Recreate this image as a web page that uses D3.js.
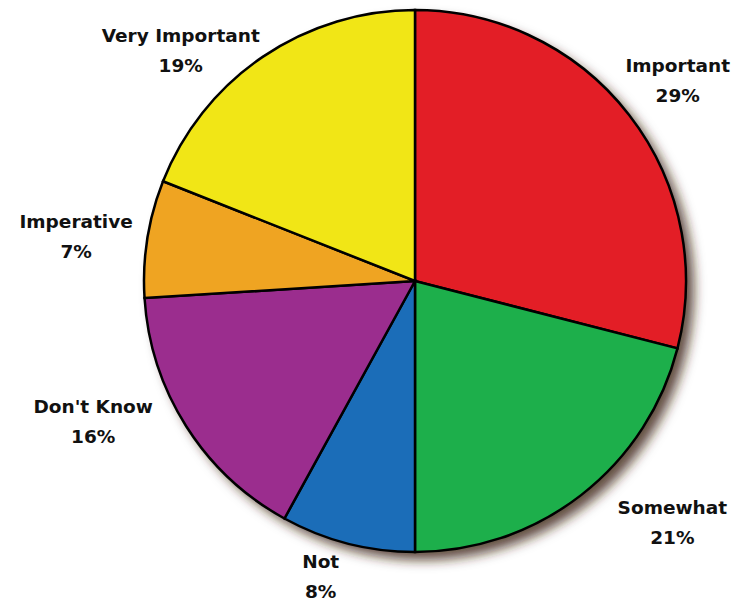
<!DOCTYPE html>
<html>
<head>
<meta charset="utf-8">
<script src="https://cdn.jsdelivr.net/npm/d3@7"></script>
<style>
  html, body { margin: 0; padding: 0; background: #ffffff; }
  svg { display: block; }
  .lbl { font-family: "DejaVu Sans", "Liberation Sans", sans-serif; font-weight: bold; font-size: 18.5px; fill: #111; }
</style>
</head>
<body>
<script>
// Survey answers, clockwise from twelve o'clock
const categories = ["Important", "Somewhat", "Not", "Don't Know", "Imperative", "Very Important"];
const percents   = [29, 21, 8, 16, 7, 19];
const colors     = ["#e31e26", "#1daf4b", "#1b6db8", "#9b2d8e", "#efa422", "#f1e616"];

const W = 744, H = 603;
const cx = 415, cy = 281, radius = 271, labelRadius = 335;
// per-label nudges from the default label ring position
const labelNudge = [[-2, 5], [52, -23], [-11, -28], [-39, -39], [-8, 8], [-46, 47]];

const svg = d3.select("body").append("svg").attr("width", W).attr("height", H);

const defs = svg.append("defs");
const f = defs.append("filter").attr("id", "shadow")
  .attr("x", "-20%").attr("y", "-20%").attr("width", "140%").attr("height", "140%");
f.append("feGaussianBlur").attr("in", "SourceAlpha").attr("stdDeviation", 6).attr("result", "b");
f.append("feOffset").attr("in", "b").attr("dx", 8).attr("dy", 8).attr("result", "o");
f.append("feFlood").attr("flood-color", "#3a2010").attr("flood-opacity", 0.8);
f.append("feComposite").attr("in2", "o").attr("operator", "in");

const data = categories.map((c, i) => ({ name: c, value: percents[i], color: colors[i], i }));

const pie = d3.pie().value(d => d.value).sort(null);
const arcs = pie(data);
const arc = d3.arc().innerRadius(0).outerRadius(radius);

const g = svg.append("g").attr("transform", `translate(${cx},${cy})`);

// soft shadow cast by the disc
g.append("circle").attr("r", radius).attr("fill", "#000").attr("filter", "url(#shadow)");

g.selectAll("path.slice")
  .data(arcs)
  .join("path")
  .attr("class", "slice")
  .attr("d", arc)
  .attr("fill", d => d.data.color)
  .attr("stroke", "#000")
  .attr("stroke-width", 2.5)
  .attr("stroke-linejoin", "miter");

const labelArc = d3.arc().innerRadius(labelRadius).outerRadius(labelRadius);

const labels = g.selectAll("g.label")
  .data(arcs)
  .join("g")
  .attr("class", "label")
  .attr("transform", d => {
    const [x, y] = labelArc.centroid(d);
    const n = labelNudge[d.data.i];
    return `translate(${x + n[0]},${y + n[1]})`;
  });

labels.append("text").attr("class", "lbl").attr("text-anchor", "middle")
  .attr("y", -9).text(d => d.data.name);
labels.append("text").attr("class", "lbl").attr("text-anchor", "middle")
  .attr("y", 21).text(d => d.data.value + "%");
</script>
</body>
</html>
